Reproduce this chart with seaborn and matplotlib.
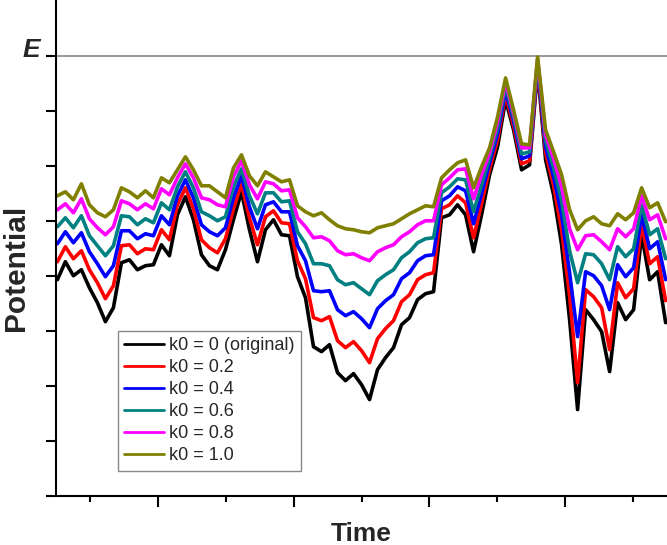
import numpy as np
import pandas as pd
import matplotlib
matplotlib.use('Agg')
import matplotlib.pyplot as plt
import matplotlib.transforms as mtransforms
import seaborn as sns

# POTENTIAL TRACES (arbitrary units, E = 441)
E = 441
k0_0 = [217, 235, 221, 227, 209, 194, 175, 189, 234, 237, 227, 231, 232, 252, 241, 282, 300, 277, 242, 231,
        227, 247, 277, 305, 267, 235, 267, 277, 262, 261, 220, 199, 150, 145, 152, 124, 116, 123, 112, 97,
        127, 139, 149, 172, 179, 197, 203, 205, 279, 282, 292, 282, 245, 282, 322, 350, 397, 367, 327, 332,
        427, 337, 302, 252, 177, 87, 187, 177, 165, 125, 194, 177, 187, 262, 217, 225, 174]
k0_02 = [235, 250, 238, 246, 227, 214, 198, 211, 251, 252, 243, 248, 247, 267, 257, 292, 309, 288, 257, 249,
         244, 258, 288, 313, 279, 252, 280, 286, 274, 273, 236, 218, 179, 176, 180, 156, 149, 155, 146, 134,
         158, 168, 176, 195, 202, 217, 222, 224, 288, 292, 301, 294, 259, 293, 328, 357, 402, 371, 333, 336,
         430, 344, 311, 267, 201, 114, 207, 200, 189, 147, 214, 199, 208, 272, 233, 240, 196]
k0_04 = [253, 265, 254, 264, 245, 233, 220, 231, 266, 266, 258, 263, 261, 281, 272, 301, 317, 299, 272, 265,
         261, 269, 299, 321, 290, 268, 292, 295, 285, 285, 251, 236, 206, 205, 206, 187, 181, 185, 178, 169,
         188, 196, 202, 218, 224, 236, 241, 242, 296, 301, 310, 306, 273, 303, 334, 363, 406, 376, 338, 341,
         433, 350, 320, 282, 224, 160, 225, 221, 211, 187, 232, 220, 229, 282, 248, 255, 217]
k0_06 = [270, 279, 269, 281, 261, 251, 241, 251, 281, 280, 272, 278, 274, 294, 287, 310, 325, 309, 285, 281,
         276, 280, 310, 328, 301, 283, 304, 304, 295, 296, 265, 253, 233, 233, 231, 217, 212, 214, 208, 202,
         216, 222, 227, 239, 245, 254, 258, 259, 304, 310, 318, 317, 285, 312, 339, 369, 411, 380, 343, 345,
         435, 356, 329, 296, 246, 214, 243, 242, 233, 217, 250, 240, 248, 292, 262, 268, 238]
k0_08 = [287, 293, 284, 298, 278, 269, 262, 270, 296, 293, 287, 293, 288, 308, 302, 319, 333, 319, 299, 297,
         292, 290, 320, 336, 312, 298, 315, 313, 306, 307, 279, 270, 259, 260, 256, 246, 242, 243, 239, 236,
         245, 249, 252, 260, 265, 272, 276, 276, 312, 319, 327, 328, 298, 322, 344, 375, 415, 384, 349, 349,
         438, 362, 338, 310, 268, 247, 261, 262, 255, 247, 268, 260, 268, 301, 277, 282, 258]
k0_10 = [301, 305, 297, 313, 292, 284, 280, 287, 309, 305, 299, 306, 299, 319, 314, 327, 340, 327, 311, 311,
         305, 299, 329, 342, 321, 311, 325, 320, 315, 317, 291, 285, 281, 284, 277, 271, 268, 267, 265, 264,
         269, 271, 273, 278, 283, 287, 291, 290, 319, 327, 334, 337, 309, 330, 349, 380, 419, 387, 353, 352,
         440, 367, 345, 322, 287, 267, 276, 280, 273, 271, 283, 277, 284, 309, 289, 294, 275]

labels = ['k0 = 0 (original)', 'k0 = 0.2', 'k0 = 0.4', 'k0 = 0.6', 'k0 = 0.8', 'k0 = 1.0']
colors = ['#000000', '#FF0000', '#0000FF', '#008080', '#FF00FF', '#808000']
series = [k0_0, k0_02, k0_04, k0_06, k0_08, k0_10]

time = np.linspace(0.52, 9.48, len(k0_0))

sns.set_style('ticks')
plt.rcParams['font.family'] = ['Liberation Sans', 'DejaVu Sans']

fig, ax = plt.subplots(figsize=(6.67, 5.45), dpi=100)
fig.subplots_adjust(left=0.084, right=1.0, bottom=0.089, top=1.0)

for vals, lab, col in zip(series, labels, colors):
    sns.lineplot(x=time, y=vals, color=col, label=lab, lw=2.6, ax=ax)

ax.axhline(E, color='#888888', lw=1.2, zorder=0)

ax.set_xlim(0.5, 9.5)
ax.set_ylim(0, 497)
ax.set_xticks([2, 4, 6, 8])
ax.set_xticks([1, 3, 5, 7, 9], minor=True)
ax.set_yticks(np.linspace(0, E, 9))
ax.set_xticklabels([])
ax.set_yticklabels([])
ax.tick_params(axis='x', which='major', direction='out', length=8, width=1.5, color='black')
ax.tick_params(axis='x', which='minor', direction='out', length=4, width=1.5, color='black')
ax.tick_params(axis='y', which='major', direction='out', length=7, width=1.5, color='black')

sns.despine(ax=ax)
for s in ['left', 'bottom']:
    ax.spines[s].set_linewidth(1.5)
    ax.spines[s].set_color('black')

ax.set_xlabel('Time', fontsize=19, fontweight='bold', labelpad=7)
ax.set_ylabel('Potential', fontsize=21.5, fontweight='bold')
ax.yaxis.set_label_coords(-0.043, 0.46)

trans = mtransforms.blended_transform_factory(ax.transAxes, ax.transData)
ax.text(-0.041, E + 6, 'E', transform=trans, ha='center', va='center',
        fontsize=19, fontweight='bold', style='italic')

leg = ax.legend(loc='lower left', bbox_to_anchor=(0.101, 0.052), borderaxespad=0,
                fontsize=13, handlelength=2.2, handletextpad=0.3, labelspacing=0.28,
                fancybox=False, framealpha=1, edgecolor='#888888', borderpad=0.35)
for line in leg.get_lines():
    line.set_linewidth(2)

fig.savefig('out.png', dpi=100)
